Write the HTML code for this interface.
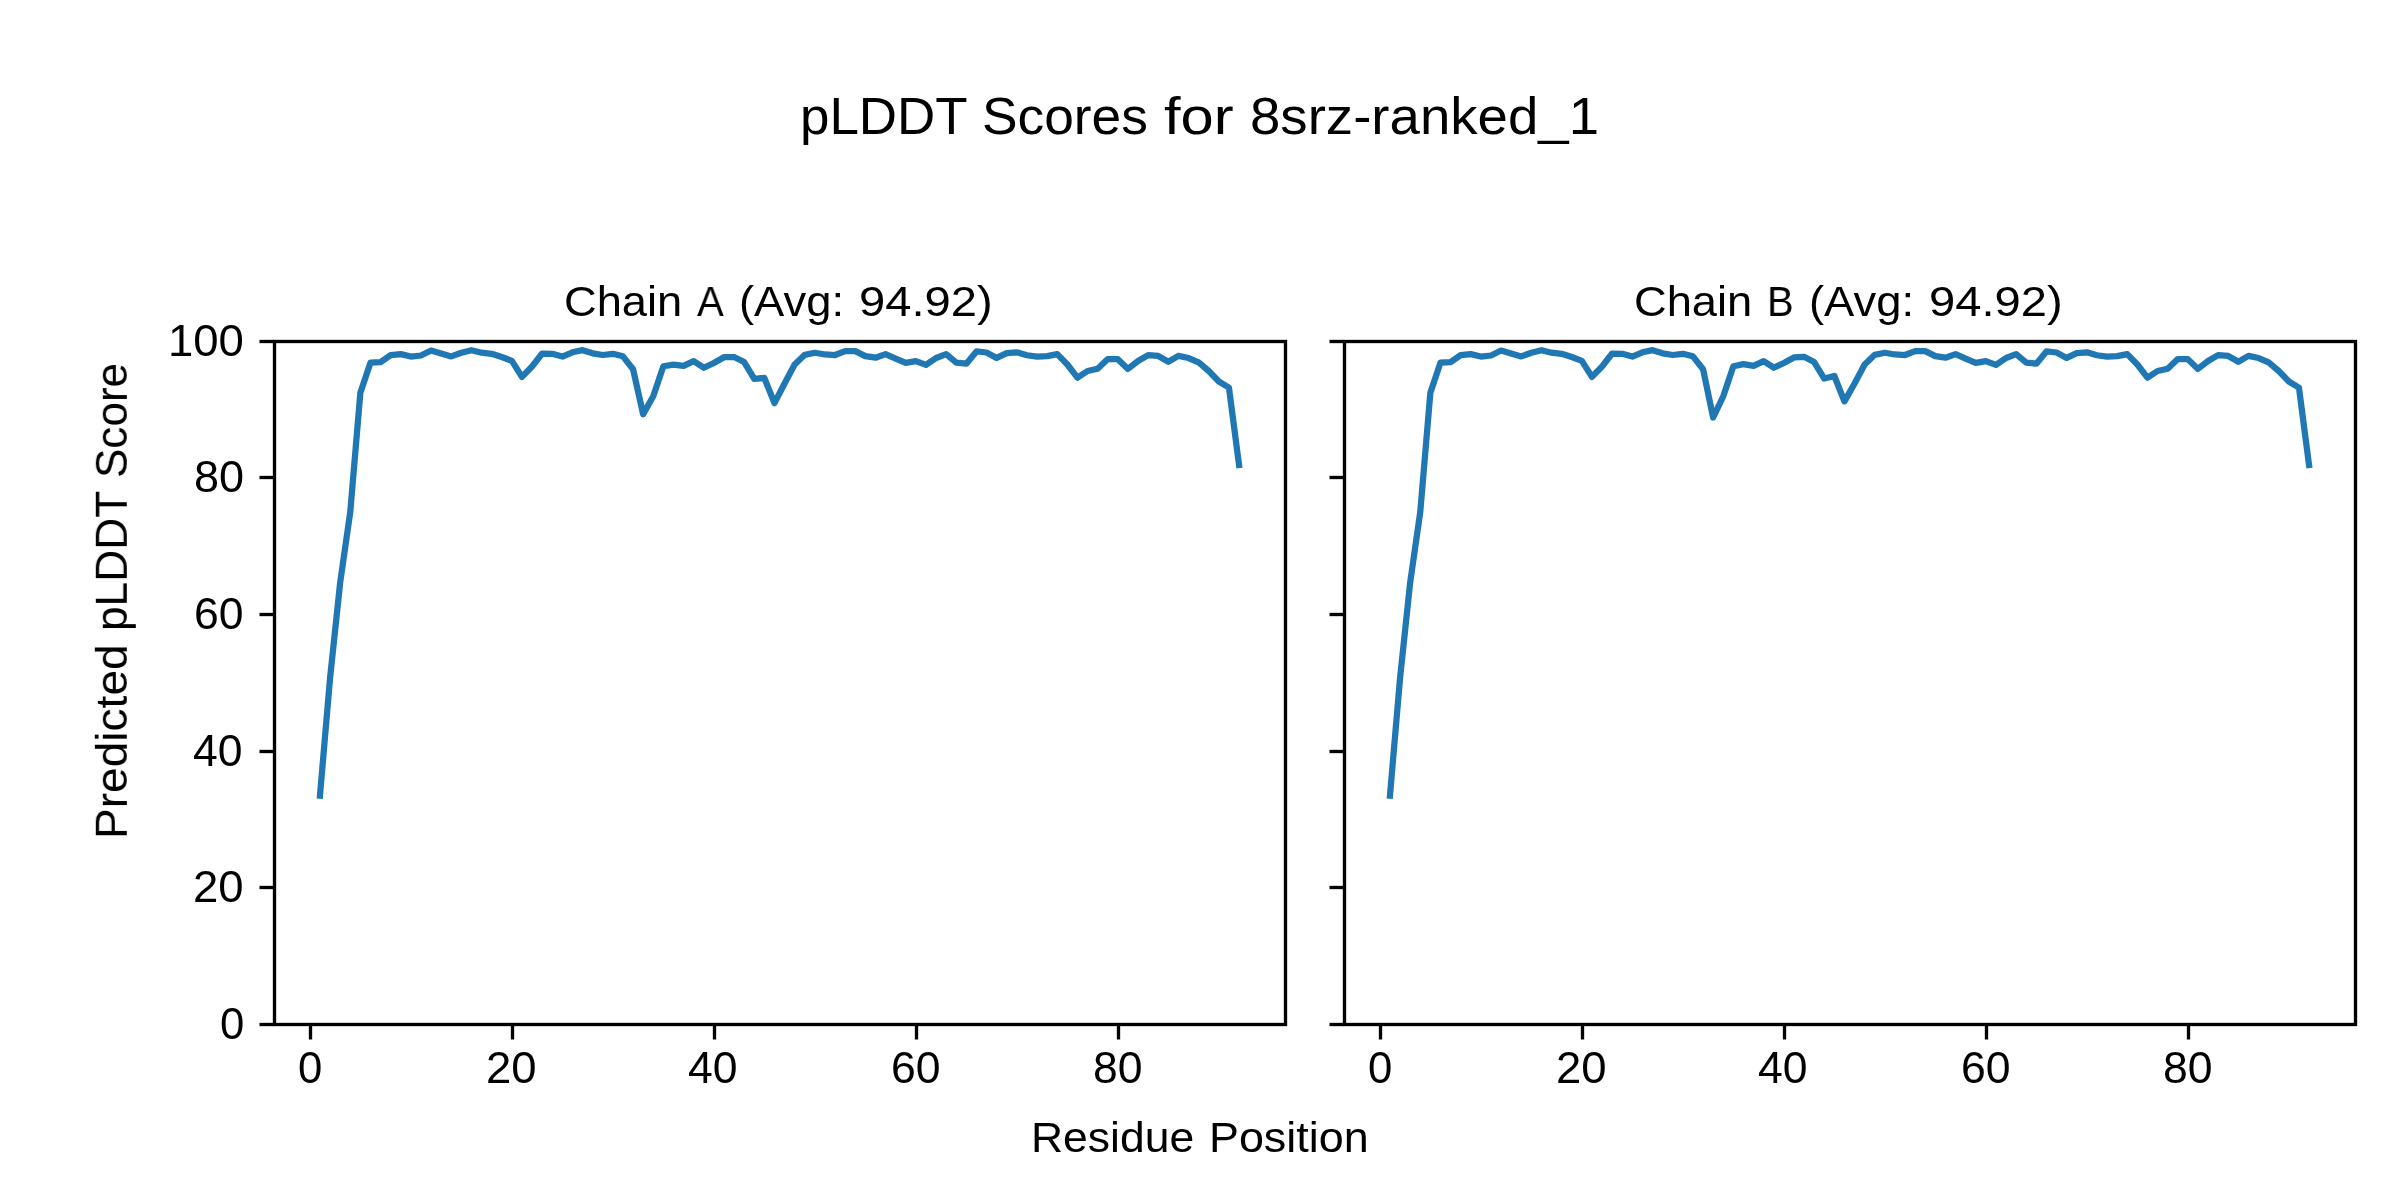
<!DOCTYPE html>
<html lang="en"><head><meta charset="utf-8"><title>pLDDT Scores for 8srz-ranked_1</title>
<style>
html,body{margin:0;padding:0;background:#fff}
body{width:2400px;height:1200px;position:relative;overflow:hidden;font-family:"Liberation Sans", sans-serif;color:#000}
.t{position:absolute;white-space:nowrap;line-height:1;transform-origin:0 0;will-change:transform;filter:grayscale(1)}
</style></head><body>
<svg width="2400" height="1200" viewBox="0 0 2400 1200" style="position:absolute;left:0;top:0">
<polyline fill="none" stroke="#1f77b4" stroke-width="6.25" stroke-linejoin="round" stroke-linecap="square" points="319.96,795.69 330.06,678.01 340.16,582.60 350.25,511.98 360.36,392.73 370.46,362.67 380.56,362.06 390.66,355.16 400.75,354.14 410.86,356.53 420.96,355.50 431.06,350.52 441.15,353.52 451.25,356.39 461.36,352.70 471.46,350.17 481.56,352.70 491.65,353.79 501.75,357.00 511.86,360.83 521.96,376.88 532.06,366.50 542.15,353.52 552.25,353.79 562.36,356.53 572.45,352.29 582.56,350.17 592.65,353.32 602.75,355.02 612.86,353.79 622.95,356.32 633.06,369.23 643.15,414.24 653.25,396.28 663.36,366.29 673.45,364.59 683.56,365.81 693.65,361.10 703.75,367.73 713.86,363.01 723.95,357.21 734.06,357.00 744.15,362.06 754.25,378.79 764.36,377.97 774.45,403.17 784.56,383.50 794.65,364.52 804.75,354.82 814.86,352.77 824.96,354.48 835.05,355.02 845.15,351.13 855.25,351.13 865.36,356.12 875.46,357.69 885.55,354.14 895.65,358.51 905.75,362.88 915.86,361.10 925.96,364.93 936.05,358.03 946.15,354.14 956.25,362.67 966.36,363.70 976.46,351.40 986.55,352.50 996.65,357.89 1006.75,353.11 1016.86,352.29 1026.95,355.23 1037.05,356.53 1047.15,356.12 1057.26,354.14 1067.36,364.52 1077.45,377.70 1087.55,371.01 1097.65,368.82 1107.76,359.12 1117.86,359.19 1127.95,368.89 1138.05,361.03 1148.15,355.09 1158.26,355.98 1168.36,361.72 1178.45,355.91 1188.55,358.03 1198.65,362.47 1208.76,371.01 1218.86,381.52 1228.95,387.67 1239.05,465.12"/>
<g stroke="#000" stroke-width="3.333" fill="none">
<line x1="259.5" y1="341.5" x2="274" y2="341.5"/>
<line x1="259.5" y1="477.5" x2="274" y2="477.5"/>
<line x1="259.5" y1="614.5" x2="274" y2="614.5"/>
<line x1="259.5" y1="751.5" x2="274" y2="751.5"/>
<line x1="259.5" y1="887.5" x2="274" y2="887.5"/>
<line x1="259.5" y1="1024.5" x2="274" y2="1024.5"/>
<line x1="310.5" y1="1024" x2="310.5" y2="1039.5"/>
<line x1="512.5" y1="1024" x2="512.5" y2="1039.5"/>
<line x1="714.5" y1="1024" x2="714.5" y2="1039.5"/>
<line x1="916.5" y1="1024" x2="916.5" y2="1039.5"/>
<line x1="1118.5" y1="1024" x2="1118.5" y2="1039.5"/>
<rect x="274.5" y="341.5" width="1011" height="683"/>
</g>
<polyline fill="none" stroke="#1f77b4" stroke-width="6.25" stroke-linejoin="round" stroke-linecap="square" points="1389.95,795.69 1400.06,678.01 1410.15,582.60 1420.26,511.98 1430.36,392.73 1440.45,362.67 1450.56,362.06 1460.65,355.16 1470.76,354.14 1480.86,356.53 1490.95,355.50 1501.06,350.52 1511.15,353.52 1521.26,356.39 1531.36,352.70 1541.45,350.17 1551.56,352.70 1561.65,353.79 1571.76,357.00 1581.86,360.83 1591.95,376.88 1602.06,366.50 1612.15,353.52 1622.26,353.79 1632.36,356.53 1642.45,352.29 1652.56,350.17 1662.65,353.32 1672.76,355.02 1682.86,353.79 1692.95,356.32 1703.06,369.23 1713.15,417.52 1723.26,396.28 1733.36,366.29 1743.45,364.18 1753.56,365.81 1763.65,361.10 1773.76,367.73 1783.86,363.01 1793.95,357.48 1804.06,356.80 1814.15,362.06 1824.26,378.52 1834.36,375.99 1844.45,401.40 1854.56,383.50 1864.65,364.52 1874.76,354.82 1884.86,352.77 1894.95,354.48 1905.05,355.02 1915.15,351.13 1925.26,351.13 1935.36,356.12 1945.45,357.69 1955.55,354.14 1965.65,358.51 1975.76,362.88 1985.86,361.10 1995.95,364.93 2006.05,358.03 2016.15,354.14 2026.26,362.67 2036.36,363.70 2046.45,351.40 2056.55,352.50 2066.65,357.89 2076.76,353.11 2086.86,352.29 2096.95,355.23 2107.05,356.53 2117.15,356.12 2127.26,354.14 2137.36,364.52 2147.45,377.70 2157.55,371.01 2167.65,368.82 2177.76,359.12 2187.86,359.19 2197.95,368.89 2208.05,361.03 2218.15,355.09 2228.26,355.98 2238.36,361.72 2248.45,355.91 2258.55,358.03 2268.65,362.47 2278.76,371.01 2288.86,381.52 2298.95,387.67 2309.05,465.12"/>
<g stroke="#000" stroke-width="3.333" fill="none">
<line x1="1329.5" y1="341.5" x2="1344" y2="341.5"/>
<line x1="1329.5" y1="477.5" x2="1344" y2="477.5"/>
<line x1="1329.5" y1="614.5" x2="1344" y2="614.5"/>
<line x1="1329.5" y1="751.5" x2="1344" y2="751.5"/>
<line x1="1329.5" y1="887.5" x2="1344" y2="887.5"/>
<line x1="1329.5" y1="1024.5" x2="1344" y2="1024.5"/>
<line x1="1380.5" y1="1024" x2="1380.5" y2="1039.5"/>
<line x1="1582.5" y1="1024" x2="1582.5" y2="1039.5"/>
<line x1="1784.5" y1="1024" x2="1784.5" y2="1039.5"/>
<line x1="1986.5" y1="1024" x2="1986.5" y2="1039.5"/>
<line x1="2188.5" y1="1024" x2="2188.5" y2="1039.5"/>
<rect x="1344.5" y="341.5" width="1011" height="683"/>
</g>
</svg>
<div class="figure-title"><span class="t" style="left:799.82px;top:90.23px;font-size:50px;transform:matrix(1.0584,0,0,1.0421,0,0)">pLDDT</span> <span class="t" style="left:981.80px;top:90.23px;font-size:50px;transform:matrix(1.0662,0,0,1.0421,0,0)">Scores</span> <span class="t" style="left:1163.81px;top:90.23px;font-size:50px;transform:matrix(1.1930,0,0,1.0421,0,0)">for</span> <span class="t" style="left:1249.82px;top:90.23px;font-size:50px;transform:matrix(1.0921,0,0,1.0421,0,0)">8srz-ranked_1</span></div>
<div class="chain-a-title"><span class="t" style="left:563.83px;top:281.00px;font-size:41.667px;transform:matrix(1.0865,0,0,1.0000,0,0)">Chain</span> <span class="t" style="left:697.00px;top:281.00px;font-size:41.667px;transform:matrix(0.9643,0,0,1.0000,0,0)">A</span> <span class="t" style="left:738.73px;top:281.00px;font-size:41.667px;transform:matrix(1.0889,0,0,1.0000,0,0)">(Avg:</span> <span class="t" style="left:858.74px;top:281.00px;font-size:41.667px;transform:matrix(1.1316,0,0,1.0000,0,0)">94.92)</span></div>
<div class="chain-b-title"><span class="t" style="left:1633.83px;top:281.00px;font-size:41.667px;transform:matrix(1.0865,0,0,1.0000,0,0)">Chain</span> <span class="t" style="left:1767.13px;top:281.00px;font-size:41.667px;transform:matrix(0.9565,0,0,1.0000,0,0)">B</span> <span class="t" style="left:1808.73px;top:281.00px;font-size:41.667px;transform:matrix(1.0889,0,0,1.0000,0,0)">(Avg:</span> <span class="t" style="left:1928.74px;top:281.00px;font-size:41.667px;transform:matrix(1.1316,0,0,1.0000,0,0)">94.92)</span></div>
<div class="x-label"><span class="t" style="left:1030.80px;top:1117.00px;font-size:41.667px;transform:matrix(1.0676,0,0,1.0000,0,0)">Residue</span> <span class="t" style="left:1208.77px;top:1117.00px;font-size:41.667px;transform:matrix(1.0769,0,0,1.0000,0,0)">Position</span></div>
<div class="y-label"><span class="t" style="left:89.46px;top:839.02px;font-size:41.667px;transform:matrix(0,-1.1059,1.0667,0,0,0)">Predicted</span> <span class="t" style="left:89.46px;top:630.89px;font-size:41.667px;transform:matrix(0,-1.0625,1.0667,0,0,0)">pLDDT</span> <span class="t" style="left:89.46px;top:477.81px;font-size:41.667px;transform:matrix(0,-1.0571,1.0667,0,0,0)">Score</span></div>
<div class="y-tick-labels"><span class="t" style="left:167.72px;top:319.09px;font-size:41.667px;transform:matrix(1.0923,0,0,1.0690,0,0)">100</span> <span class="t" style="left:193.84px;top:455.09px;font-size:41.667px;transform:matrix(1.0814,0,0,1.0690,0,0)">80</span> <span class="t" style="left:193.86px;top:592.09px;font-size:41.667px;transform:matrix(1.0698,0,0,1.0690,0,0)">60</span> <span class="t" style="left:192.93px;top:729.09px;font-size:41.667px;transform:matrix(1.0682,0,0,1.0690,0,0)">40</span> <span class="t" style="left:192.81px;top:865.09px;font-size:41.667px;transform:matrix(1.0930,0,0,1.0690,0,0)">20</span> <span class="t" style="left:219.90px;top:1002.09px;font-size:41.667px;transform:matrix(1.0500,0,0,1.0690,0,0)">0</span></div>
<div class="x-tick-labels-a"><span class="t" style="left:297.90px;top:1046.09px;font-size:41.667px;transform:matrix(1.0500,0,0,1.0690,0,0)">0</span> <span class="t" style="left:485.81px;top:1046.09px;font-size:41.667px;transform:matrix(1.0930,0,0,1.0690,0,0)">20</span> <span class="t" style="left:687.93px;top:1046.09px;font-size:41.667px;transform:matrix(1.0682,0,0,1.0690,0,0)">40</span> <span class="t" style="left:890.86px;top:1046.09px;font-size:41.667px;transform:matrix(1.0698,0,0,1.0690,0,0)">60</span> <span class="t" style="left:1092.86px;top:1046.09px;font-size:41.667px;transform:matrix(1.0698,0,0,1.0690,0,0)">80</span></div>
<div class="x-tick-labels-b"><span class="t" style="left:1367.90px;top:1046.09px;font-size:41.667px;transform:matrix(1.0500,0,0,1.0690,0,0)">0</span> <span class="t" style="left:1555.81px;top:1046.09px;font-size:41.667px;transform:matrix(1.0930,0,0,1.0690,0,0)">20</span> <span class="t" style="left:1757.93px;top:1046.09px;font-size:41.667px;transform:matrix(1.0682,0,0,1.0690,0,0)">40</span> <span class="t" style="left:1960.86px;top:1046.09px;font-size:41.667px;transform:matrix(1.0698,0,0,1.0690,0,0)">60</span> <span class="t" style="left:2162.86px;top:1046.09px;font-size:41.667px;transform:matrix(1.0698,0,0,1.0690,0,0)">80</span></div>
</body></html>
